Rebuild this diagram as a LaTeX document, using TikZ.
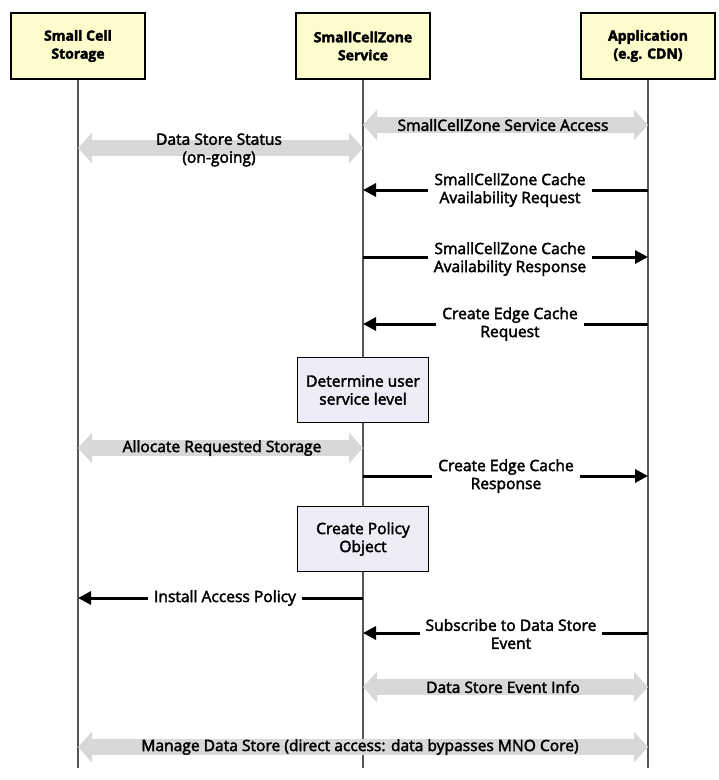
\documentclass[tikz,border=0pt]{standalone}
\usepackage{fontspec}
\setmainfont{Open Sans}[FakeBold=2.5]
\usetikzlibrary{arrows.meta}
\definecolor{headfill}{RGB}{252,252,204}
\definecolor{procfill}{RGB}{238,236,246}
\definecolor{lifegray}{RGB}{85,85,85}
\definecolor{bandgray}{RGB}{216,216,216}
\tikzset{
  headbox/.style={draw=black, line width=2.2pt, fill=headfill, minimum width=134pt, minimum height=66pt, align=center, font=\fontsize{14}{18}\selectfont\bfseries},
  procbox/.style={draw=black, line width=1.8pt, fill=procfill, minimum width=131pt, minimum height=65pt, align=center, font=\fontsize{15.6}{18}\selectfont},
  lifeline/.style={draw=lifegray, line width=1.5pt},
  msgline/.style={draw=black, line width=3pt, -{Triangle[length=13pt,width=13pt]}},
  bandarrow/.style={draw=bandgray, line width=16pt, {Triangle[length=14pt,width=30pt]}-{Triangle[length=14pt,width=30pt]}},
  msglabel/.style={fill=white, inner xsep=6pt, inner ysep=1pt, align=center, font=\fontsize{15.6}{18}\selectfont},
  bandlabel/.style={inner sep=0pt, align=center, font=\fontsize{15.6}{18}\selectfont}
}
\begin{document}
\begin{tikzpicture}[x=1pt,y=-1pt]
\useasboundingbox (0,0) rectangle (719,780);
% header boxes
\node[headbox] (A) at (78,46) {Small Cell\\Storage};
\node[headbox] (B) at (363,46) {SmallCellZone\\Service};
\node[headbox] (C) at (648,46) {Application\\(e.g. CDN)};
% lifeline ends
\coordinate (Aend) at (78,768);
\coordinate (Bend) at (363,768);
\coordinate (Cend) at (648,768);
\draw[lifeline] (A.south) -- (Aend);
\draw[lifeline] (B.south) -- (Bend);
\draw[lifeline] (C.south) -- (Cend);
% coordinates on lifelines
\foreach \n/\y in {1/125,2/148,3/190,4/257,5/324,6/448,7/476,8/598,9/633,10/687,11/747}{
  \coordinate (a\n) at (78,\y);
  \coordinate (b\n) at (363,\y);
  \coordinate (c\n) at (648,\y);
}
% process boxes
\node[procbox] (P1) at (363,390) {Determine user\\service level};
\node[procbox] (P2) at (363,539) {Create Policy\\Object};
% band arrows
\draw[bandarrow] (b1) -- (c1);
\node[bandlabel] (L1) at (503,125) {SmallCellZone Service Access};
\draw[bandarrow] (a2) -- (b2);
\node[bandlabel] (L2) at (219,150) {Data Store Status\\(on-going)};
% messages
\draw[msgline] (c3) -- (b3);
\node[msglabel] (L3) at (510,190) {SmallCellZone Cache\\Availability Request};
\draw[msgline] (b4) -- (c4);
\node[msglabel] (L4) at (510,259) {SmallCellZone Cache\\Availability Response};
\draw[msgline] (c5) -- (b5);
\node[msglabel] (L5) at (510,324) {Create Edge Cache\\Request};
\draw[bandarrow] (a6) -- (b6);
\node[bandlabel] (L6) at (222,448) {Allocate Requested Storage};
\draw[msgline] (b7) -- (c7);
\node[msglabel] (L7) at (506,476) {Create Edge Cache\\Response};
\draw[msgline] (b8) -- (a8);
\node[msglabel] (L8) at (225,598) {Install Access Policy};
\draw[msgline] (c9) -- (b9);
\node[msglabel] (L9) at (511,634) {Subscribe to Data Store\\Event};
\draw[bandarrow] (b10) -- (c10);
\node[bandlabel] (L10) at (503,687) {Data Store Event Info};
\draw[bandarrow] (a11) -- (c11);
\node[bandlabel] (L11) at (360,747) {Manage Data Store (direct access: data bypasses MNO Core)};
\end{tikzpicture}
\end{document}
